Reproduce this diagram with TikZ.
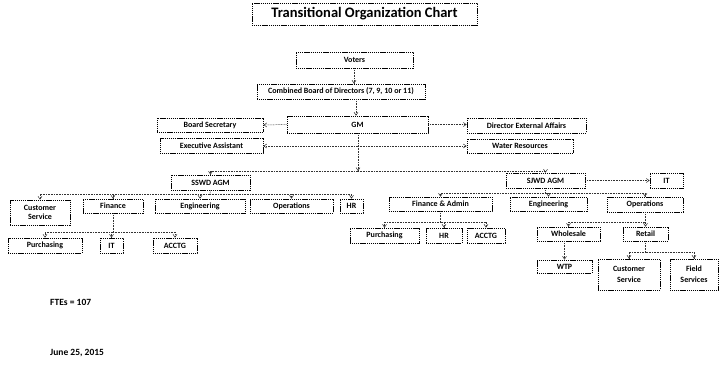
\documentclass[tikz,border=0pt]{standalone}
\usepackage{fontspec}
\setmainfont{Carlito}
\usetikzlibrary{arrows.meta}
\begin{document}
\begin{tikzpicture}[x=1pt,y=-1pt,
  box/.style={draw=black, line width=0.7pt, dash pattern=on 1.2pt off 0.7pt,
    inner sep=0pt, align=center, font=\fontsize{8}{9}\selectfont\bfseries},
  link/.style={draw=black!80, line width=0.5pt, dash pattern=on 0.8pt off 0.8pt},
  arr/.style={link, -{Straight Barb[length=3pt,width=4pt]}},
  note/.style={inner sep=0pt, anchor=west, font=\fontsize{9.5}{10}\selectfont\bfseries}]
\useasboundingbox (0,0) rectangle (719,370);

% top of the chart
\node[box, minimum width=225, minimum height=22, font=\fontsize{14.5}{16}\selectfont\bfseries] (title) at (364.5,14) {Transitional Organization Chart};
\node[box, minimum width=117, minimum height=16] (voters) at (354.5,60) {Voters};
\node[box, minimum width=168, minimum height=15] (board) at (341,91.5) {Combined Board of Directors (7, 9, 10 or 11)};
\node[box, minimum width=141, minimum height=17] (gm) at (357.5,124.5) {GM};
\node[box, minimum width=106, minimum height=14] (bsec) at (210,125) {Board Secretary};
\node[box, minimum width=119, minimum height=15] (dea) at (526.5,125.5) {Director External Affairs};
\node[box, minimum width=103, minimum height=15] (exa) at (211.5,145.5) {Executive Assistant};
\node[box, minimum width=106, minimum height=14] (wr) at (520,146) {Water Resources};

% the two general manager branches
\node[box, minimum width=79, minimum height=15] (sswd) at (210.5,182.5) {SSWD AGM};
\node[box, minimum width=79, minimum height=15] (sjwd) at (545.5,180.5) {SJWD AGM};
\node[box, minimum width=33, minimum height=15] (itR) at (666.5,180.5) {IT};

% SSWD departments
\node[box, minimum width=60, minimum height=25] (csL) at (40,212.5) {Customer\\Service};
\node[box, minimum width=60, minimum height=14] (finL) at (113,206) {Finance};
\node[box, minimum width=90, minimum height=14] (engL) at (200,206) {Engineering};
\node[box, minimum width=83, minimum height=14] (opsL) at (291.5,206) {Operations};
\node[box, minimum width=23, minimum height=14] (hrL) at (351.5,206) {HR};
\node[box, minimum width=74, minimum height=15] (purL) at (45,245.5) {Purchasing};
\node[box, minimum width=23, minimum height=15] (itL) at (111.5,245.5) {IT};
\node[box, minimum width=44, minimum height=15] (accL) at (175,245.5) {ACCTG};

% SJWD departments
\node[box, minimum width=103, minimum height=14] (faR) at (440.5,204) {Finance \& Admin};
\node[box, minimum width=77, minimum height=14] (engR) at (548.5,204) {Engineering};
\node[box, minimum width=76, minimum height=15] (opsR) at (645,204.5) {Operations};
\node[box, minimum width=69, minimum height=15] (purR) at (384.5,235.5) {Purchasing};
\node[box, minimum width=36, minimum height=15] (hrR) at (444,235.5) {HR};
\node[box, minimum width=38, minimum height=15] (accR) at (486,235.5) {ACCTG};
\node[box, minimum width=63, minimum height=14] (whole) at (568.5,234) {Wholesale};
\node[box, minimum width=45, minimum height=14] (retail) at (645.5,234) {Retail};
\node[box, minimum width=55, minimum height=13] (wtp) at (564.5,266.5) {WTP};
\node[box, minimum width=62, minimum height=31] (csR) at (629,274.5) {Customer\\[2pt]Service};
\node[box, minimum width=48, minimum height=31] (fsR) at (694,274.5) {Field\\[2pt]Services};

% notes
\node[note] (ftes) at (50,302) {FTEs = 107};
\node[note] (date) at (50,353) {June 25, 2015};

% connectors
\draw[arr] (voters.south -| 354,0) -- (board.north -| 354,0);
\draw[arr] (board.south -| 356,0) -- (gm.north -| 356,0);
\draw[arr] (gm.west) -- (bsec.east);
\draw[arr] (gm.east) -- (dea.west |- gm.east);
\coordinate (gmmid) at (358,146);
\draw[link] (gm.south -| gmmid) -- (gmmid);
\draw[arr] (gmmid) -- (exa.east |- gmmid);
\draw[arr] (gmmid) -- (wr.west |- gmmid);
\coordinate (split) at (358,171);
\draw[arr] (gmmid) -- (split);
\draw[arr] (split) -| (sswd.north);
\draw[arr] (split) -| (sjwd.north);
\draw[arr] (sjwd.east) -- (itR.west);

% SSWD bus
\coordinate (busL) at (210,194);
\draw[link] (sswd.south) -- (busL);
\foreach \n in {csL,finL,engL,opsL,hrL}
  \draw[arr] (busL) -| (\n.north);
\coordinate (busF) at (113,232);
\draw[link] (finL.south) -- (busF);
\foreach \n in {purL,itL,accL}
  \draw[arr] (busF) -| (\n.north);

% SJWD bus
\coordinate (busR) at (545.5,193);
\draw[link] (sjwd.south) -- (busR);
\foreach \n in {faR,engR,opsR}
  \draw[arr] (busR) -| (\n.north);
\coordinate (busA) at (440.5,222);
\draw[link] (faR.south) -- (busA);
\foreach \n in {purR,hrR,accR}
  \draw[arr] (busA) -| (\n.north);
\coordinate (busO) at (645,222);
\draw[link] (opsR.south) -- (busO);
\foreach \n in {whole,retail}
  \draw[arr] (busO) -| (\n.north);
\draw[arr] (whole.south -| wtp.north) -- (wtp.north);
\coordinate (busT) at (645.5,252);
\draw[link] (retail.south) -- (busT);
\foreach \n in {csR,fsR}
  \draw[arr] (busT) -| (\n.north);
\end{tikzpicture}
\end{document}
